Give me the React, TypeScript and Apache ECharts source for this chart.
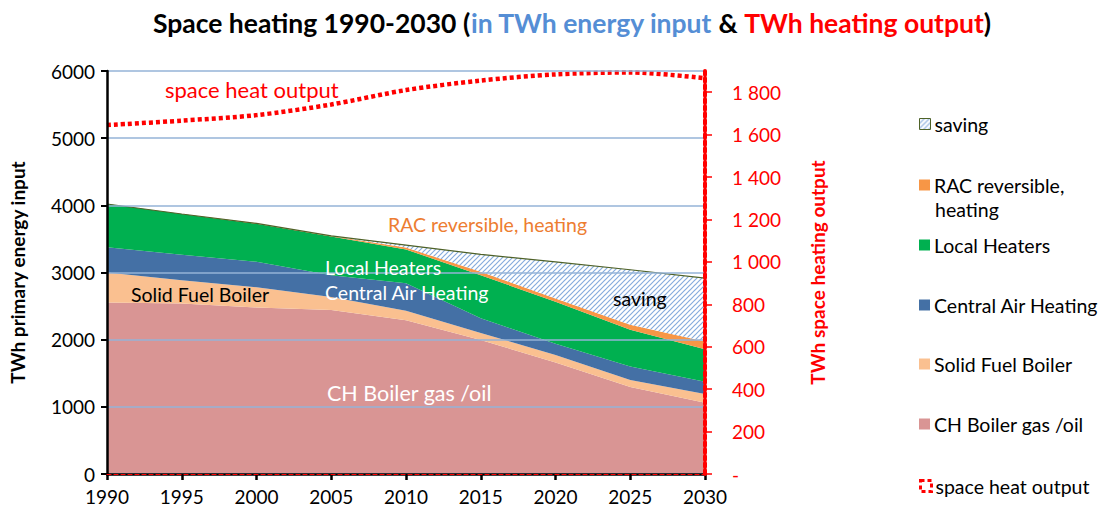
import React, { useEffect, useRef } from "react";
import * as echarts from "echarts";

const years = ["1990", "1995", "2000", "2005", "2010", "2015", "2020", "2025", "2030"];
const chBoiler = [2555, 2540, 2480, 2440, 2290, 1995, 1660, 1295, 1060];
const solidFuel = [445, 345, 300, 195, 140, 105, 110, 105, 130];
const centralAir = [375, 380, 380, 325, 410, 220, 170, 200, 185];
const localHeaters = [645, 606, 566, 575, 503, 640, 624, 546, 481];
const racHeating = [0, 0, 5, 10, 30, 50, 50, 75, 115];
const saving = [0, 0, 0, 0, 35, 260, 545, 820, 945];
const heatOutput = [1645, 1666, 1692, 1742, 1810, 1855, 1884, 1893, 1866];

const leftTicks = [0, 1000, 2000, 3000, 4000, 5000, 6000];
const rightTicks = [0, 200, 400, 600, 800, 1000, 1200, 1400, 1600, 1800];
const rightTickLabels = ["-", "200", "400", "600", "800", "1 000", "1 200", "1 400", "1 600", "1 800"];

const FONT = "Lato";
const TXT = 19.5;

function makeHatch() {
  const s = 5;
  const c = document.createElement("canvas");
  c.width = s;
  c.height = s;
  const ctx = c.getContext("2d")!;
  ctx.fillStyle = "#ffffff";
  ctx.fillRect(0, 0, s, s);
  ctx.strokeStyle = "#86ACDD";
  ctx.lineWidth = 1.2;
  ctx.beginPath();
  ctx.moveTo(-1, s + 1);
  ctx.lineTo(s + 1, -1);
  ctx.moveTo(-s, s);
  ctx.lineTo(s, -s);
  ctx.moveTo(0, 2 * s);
  ctx.lineTo(2 * s, 0);
  ctx.stroke();
  return c;
}

export default function App() {
  const ref = useRef<HTMLDivElement>(null);
  useEffect(() => {
    if (!ref.current) return;
    const chart = echarts.init(ref.current, null, { renderer: "svg" });
    const hatch = { image: makeHatch(), repeat: "repeat", imageWidth: 5, imageHeight: 5 } as any;

    const area = (name: string, data: number[], color: any, extra: any = {}) => ({
      type: "line",
      name,
      data,
      stack: "total",
      symbol: "none",
      showSymbol: false,
      lineStyle: { width: 0 },
      areaStyle: { color, opacity: 1 },
      itemStyle: { color },
      z: 2,
      ...extra,
    });

    const legendItem = (name: string, top: number, itemStyle: any, formatter?: string) => ({
      data: [{ name, icon: "rect", itemStyle }],
      left: 914,
      top,
      orient: "vertical",
      itemWidth: 11,
      itemHeight: 11,
      itemGap: 0,
      formatter: formatter ? () => formatter : undefined,
      textStyle: { fontFamily: FONT, fontSize: TXT, color: "#000", padding: [0, 0, 0, -1] },
      selectedMode: false,
    });

    const annot = (text: string, x: number, y: number, color: string, size: number) => ({
      type: "text",
      x,
      y,
      style: { text, fill: color, font: `${size}px ${FONT}`, textVerticalAlign: "middle" },
      z: 20,
    });

    chart.setOption({
      animation: false,
      backgroundColor: "#ffffff",
      title: {
        text: "{k|Space heating 1990-2030 (}{b|in TWh energy input}{k| & }{r|TWh heating output}{k|)}",
        left: 567,
        top: 4,
        textAlign: "center",
        textStyle: {
          rich: {
            k: { fontFamily: FONT, fontWeight: "bold", fontSize: 26.5, color: "#000" },
            b: { fontFamily: FONT, fontWeight: "bold", fontSize: 26.5, color: "#558ED5" },
            r: { fontFamily: FONT, fontWeight: "bold", fontSize: 26.5, color: "#FF0000" },
          },
        },
      },
      grid: { left: 107, right: 397, top: 71, bottom: 43, containLabel: false },
      legend: [
        legendItem("saving", 109, { color: hatch, borderColor: "#4F6228", borderWidth: 1 }),
        legendItem("RAC reversible, heating", 170, { color: "#F79646", borderWidth: 0 }, "RAC reversible,"),
        legendItem("Local Heaters", 230, { color: "#00B050", borderWidth: 0 }),
        legendItem("Central Air Heating", 290, { color: "#4470A5", borderWidth: 0 }),
        legendItem("Solid Fuel Boiler", 349, { color: "#FAC090", borderWidth: 0 }),
        legendItem("CH Boiler gas /oil", 409, { color: "#D99594", borderWidth: 0 }),
        legendItem("space heat output", 471, {
          color: "rgba(0,0,0,0)",
          borderColor: "#FF0000",
          borderWidth: 3,
          borderType: [4, 3],
        }),
      ],
      xAxis: [
        {
          type: "category",
          data: years,
          boundaryGap: false,
          position: "bottom",
          axisLine: { show: true, lineStyle: { color: "#000", width: 2.5 } },
          axisTick: { show: true, length: 6, lineStyle: { color: "#000", width: 2.5 } },
          axisLabel: { fontFamily: FONT, fontSize: 19, color: "#000", margin: 13 },
          splitLine: { show: false },
          z: 8,
        },
        {
          type: "category",
          data: years,
          boundaryGap: false,
          position: "bottom",
          axisLine: { show: true, lineStyle: { color: "#FF0000", width: 1.2, type: [4, 3] } },
          axisTick: { show: false },
          axisLabel: { show: false },
          splitLine: { show: false },
          z: 9,
        },
      ],
      yAxis: [
        {
          type: "value",
          min: leftTicks[0],
          max: leftTicks[leftTicks.length - 1],
          interval: 1000,
          name: "TWh primary energy input",
          nameLocation: "middle",
          nameGap: 80,
          nameTextStyle: { fontFamily: FONT, fontWeight: "bold", fontSize: 19, color: "#000" },
          axisLine: { show: true, lineStyle: { color: "#000", width: 2.5 } },
          axisTick: { show: true, length: 6, lineStyle: { color: "#000", width: 2 } },
          axisLabel: {
            fontFamily: FONT,
            fontSize: 19,
            color: "#000",
            margin: 12,
            formatter: (v: number) => String(v),
          },
          splitLine: { show: true, lineStyle: { color: "#95B3D7", width: 1.5 } },
          z: 8,
        },
        {
          type: "value",
          position: "right",
          min: 0,
          max: 1900,
          interval: 200,
          name: "TWh space heating output",
          nameLocation: "middle",
          nameGap: 103,
          nameTextStyle: { fontFamily: FONT, fontWeight: "bold", fontSize: 19, color: "#FF0000" },
          axisLine: { show: true, lineStyle: { color: "#FF0000", width: 4, type: [4, 3] } },
          axisTick: { show: true, length: 7, customValues: rightTicks, lineStyle: { color: "#FF0000", width: 1.5 } },
          axisLabel: {
            fontFamily: FONT,
            fontSize: 19,
            color: "#FF0000",
            margin: 27,
            customValues: rightTicks,
            formatter: (v: number) => {
              const i = rightTicks.indexOf(v);
              return i >= 0 ? rightTickLabels[i] : "";
            },
          },
          splitLine: { show: false },
          z: 10,
        },
      ],
      series: [
        area("CH Boiler gas /oil", chBoiler, "#D99594"),
        area("Solid Fuel Boiler", solidFuel, "#FAC090"),
        area("Central Air Heating", centralAir, "#4470A5"),
        area("Local Heaters", localHeaters, "#00B050"),
        area("RAC reversible, heating", racHeating, "#F79646"),
        area("saving", saving, hatch, { lineStyle: { width: 1.2, color: "#4F6228" } }),
        {
          type: "line",
          name: "space heat output",
          yAxisIndex: 1,
          data: heatOutput,
          smooth: 0.3,
          symbol: "none",
          showSymbol: false,
          lineStyle: { color: "#FF0000", width: 4.5, type: [4, 3] },
          itemStyle: { color: "#FF0000" },
          z: 5,
        },
      ],
      graphic: [
        annot("space heat output", 165, 89, "#FF0000", 22),
        annot("RAC reversible, heating", 388, 224, "#ED7D31", TXT),
        annot("Local Heaters", 325, 267, "#FFFFFF", TXT),
        annot("Central Air Heating", 325, 292, "#FFFFFF", TXT),
        annot("Solid Fuel Boiler", 131, 294, "#000000", TXT),
        annot("CH Boiler gas /oil", 327, 393, "#FFFFFF", 21.5),
        annot("saving", 613, 298, "#000000", TXT),
        annot("heating", 935, 209, "#000000", TXT),
      ],
    });
    return () => chart.dispose();
  }, []);
  return <div ref={ref} style={{ position: "fixed", left: 0, top: 0, width: 1102, height: 517 }} />;
}
